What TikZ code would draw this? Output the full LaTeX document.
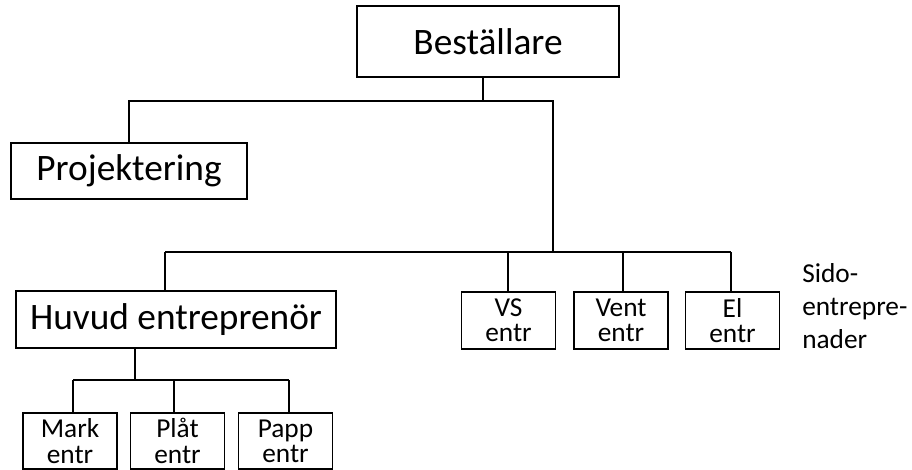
\documentclass[tikz,border=0pt]{standalone}
\usepackage{fontspec}
\setmainfont{Carlito}
\usetikzlibrary{calc}

\begin{document}
\begin{tikzpicture}[x=0.75pt,y=-0.75pt]
        \tikzset{box/.style={draw, line width=1.2pt, inner sep=0pt, align=center},
                 bigbox/.style={box, font=\fontsize{28}{30}\selectfont, minimum height=56*0.75pt},
                 smallbox/.style={box, font=\fontsize{20.5}{19}\selectfont, minimum width=94*0.75pt, minimum height=57*0.75pt},
                 wire/.style={line width=1.2pt}}
        \useasboundingbox (0,0) rectangle (912,470);

        % upper boxes
        \node[bigbox, minimum width=262*0.75pt, minimum height=71*0.75pt] (bestallare) at (488,41.5) {Beställare};
        \node[bigbox, minimum width=236*0.75pt] (projektering) at (129,171) {Projektering};
        \node[bigbox, minimum width=320*0.75pt, minimum height=57*0.75pt] (huvud) at (176,319.5) {Huvud entreprenör};

        % side contractors
        \foreach \n/\x/\lbl in {vs/508.5/VS, vent/621/Vent, el/732.5/El}
            \node[smallbox] (\n) at (\x,320.5) {\lbl\\entr};
        \node[font=\fontsize{20.5}{24.75}\selectfont, align=left, anchor=north west, inner sep=0pt] (sido) at (802,263) {Sido-\\entrepre-\\nader};

        % under the main contractor
        \foreach \n/\x/\lbl in {mark/70/Mark, plat/177.5/Plåt, papp/285.5/Papp}
            \node[smallbox, minimum height=56*0.75pt] (\n) at (\x,441) {\lbl\\entr};

        % connectors
        \coordinate (top) at (483,101);
        \coordinate (mid) at (553,252);
        \draw[wire] (bestallare.south -| top) -- (top);
        \draw[wire] (projektering.north) |- (top -| mid) -- (mid);

        \coordinate (hu) at (165,252);
        \coordinate (vsd) at (508,252);
        \coordinate (ved) at (623,252);
        \coordinate (eld) at (731,252);
        \draw[wire] (hu) -- (eld);
        \foreach \c/\n in {hu/huvud, vsd/vs, ved/vent, eld/el}
            \draw[wire] (\c) -- (\c |- \n.north);

        \coordinate (hd) at (135,380);
        \coordinate (ma) at (73,380);
        \coordinate (pl) at (174,380);
        \coordinate (pa) at (289,380);
        \draw[wire] (huvud.south -| hd) -- (hd);
        \draw[wire] (ma) -- (pa);
        \foreach \c/\n in {ma/mark, pl/plat, pa/papp}
            \draw[wire] (\c) -- (\c |- \n.north);
\end{tikzpicture}
\end{document}
